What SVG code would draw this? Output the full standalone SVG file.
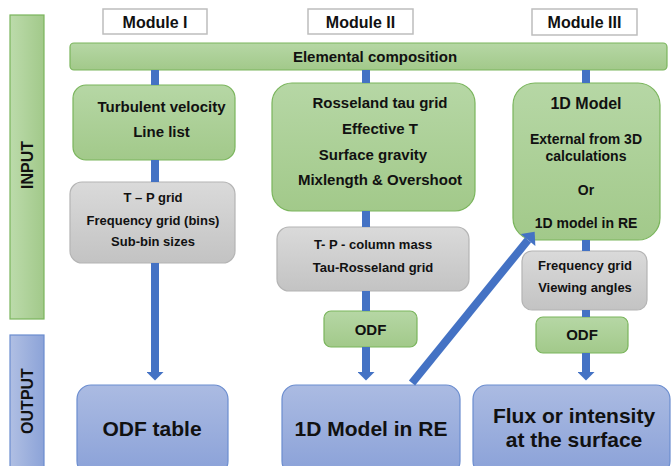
<svg xmlns="http://www.w3.org/2000/svg" width="671" height="466" viewBox="0 0 671 466">
  <defs>
    <linearGradient id="gGreen" x1="0" y1="0" x2="0" y2="1">
      <stop offset="0" stop-color="#b6d7a5"/>
      <stop offset="1" stop-color="#a2c98a"/>
    </linearGradient>
    <linearGradient id="gGreenH" x1="0" y1="0" x2="1" y2="0">
      <stop offset="0" stop-color="#bcdbab"/>
      <stop offset="1" stop-color="#a2c98a"/>
    </linearGradient>
    <linearGradient id="gGray" x1="0" y1="0" x2="0" y2="1">
      <stop offset="0" stop-color="#dadada"/>
      <stop offset="1" stop-color="#c3c3c3"/>
    </linearGradient>
    <linearGradient id="gBlue" x1="0" y1="0" x2="0" y2="1">
      <stop offset="0" stop-color="#abbbe2"/>
      <stop offset="1" stop-color="#8aa1d8"/>
    </linearGradient>
    <linearGradient id="gBlueH" x1="0" y1="0" x2="1" y2="0">
      <stop offset="0" stop-color="#b0bfe3"/>
      <stop offset="1" stop-color="#8ca3d8"/>
    </linearGradient>
    <marker id="head" markerUnits="userSpaceOnUse" markerWidth="9" markerHeight="17" viewBox="0 0 8 16" refX="0" refY="8" orient="auto">
      <path d="M0,0 L8,8 L0,16 Z" fill="#4472c4"/>
    </marker>
    <marker id="headBig" markerUnits="userSpaceOnUse" markerWidth="11" markerHeight="19" viewBox="0 0 10 18" refX="0" refY="9" orient="auto">
      <path d="M0,0 L10,9 L0,18 Z" fill="#4472c4"/>
    </marker>
    <style>
      .green { fill: url(#gGreen); stroke: #7ab55c; stroke-width: 1.2; }
      .gray { fill: url(#gGray); stroke: #b4b4b4; stroke-width: 1.2; }
      .blue { fill: url(#gBlue); stroke: #6b8dcf; stroke-width: 1.2; }
      .mod { fill: #ffffff; stroke: #bdbdbd; stroke-width: 1.5; }
      text { font-family: "Liberation Sans", Arial, sans-serif; font-weight: bold; fill: #111; text-anchor: middle; }
      .t15 { font-size: 15px; }
      .t14 { font-size: 14px; }
      .t13 { font-size: 13px; }
      .t16 { font-size: 16px; }
      .t21 { font-size: 21px; }
      .link { stroke: #4472c4; stroke-width: 8; fill: none; }
    </style>
  </defs>

  <!-- side bands -->
  <g id="input-band">
    <rect x="10" y="15" width="34" height="304" fill="url(#gGreenH)" stroke="#7ab55c" stroke-width="1.2"/>
    <text class="t16" transform="translate(33,165) rotate(-90)">INPUT</text>
  </g>
  <g id="output-band">
    <rect x="10" y="335" width="34" height="140" fill="url(#gBlueH)" stroke="#6b8dcf" stroke-width="1.2"/>
    <text class="t16" transform="translate(33,401) rotate(-90)">OUTPUT</text>
  </g>

  <!-- module headers -->
  <g id="module-1"><rect class="mod" x="103" y="9" width="104" height="25"/><text class="t16" x="155" y="28">Module I</text></g>
  <g id="module-2"><rect class="mod" x="308" y="9" width="105" height="25"/><text class="t16" x="360.5" y="28">Module II</text></g>
  <g id="module-3"><rect class="mod" x="532" y="9" width="105" height="26"/><text class="t16" x="584.5" y="28">Module III</text></g>

  <!-- shared input -->
  <g id="composition">
    <rect class="green" x="70" y="43" width="597" height="27" rx="4"/>
    <text class="t15" x="375" y="62">Elemental composition</text>
  </g>

  <!-- Module I -->
  <g id="turbulent">
    <rect class="green" x="73" y="85" width="162" height="75" rx="13"/>
    <text class="t15" x="161.5" y="112">Turbulent velocity</text>
    <text class="t15" x="161.5" y="137">Line list</text>
  </g>
  <g id="tp-grid">
    <rect class="gray" x="70" y="182" width="165" height="81" rx="12"/>
    <text class="t13" x="153" y="202">T – P grid</text>
    <text class="t13" x="153" y="225">Frequency grid (bins)</text>
    <text class="t13" x="153" y="246">Sub-bin sizes</text>
  </g>
  <g id="odf-table">
    <rect class="blue" x="77" y="385" width="151" height="90" rx="14"/>
    <text class="t21" x="152" y="436">ODF table</text>
  </g>

  <!-- Module II -->
  <g id="rosseland">
    <rect class="green" x="272" y="83" width="203" height="128" rx="20"/>
    <text class="t15" x="380" y="108">Rosseland tau grid</text>
    <text class="t15" x="380" y="134">Effective T</text>
    <text class="t15" x="373" y="160">Surface gravity</text>
    <text class="t15" x="380" y="185">Mixlength &amp; Overshoot</text>
  </g>
  <g id="column-mass">
    <rect class="gray" x="277" y="227" width="192" height="64" rx="12"/>
    <text class="t13" x="373" y="249">T- P - column mass</text>
    <text class="t13" x="373" y="272">Tau-Rosseland grid</text>
  </g>
  <g id="odf-2">
    <rect class="green" x="324" y="311" width="93" height="36" rx="7"/>
    <text class="t15" x="370.5" y="335">ODF</text>
  </g>
  <g id="model-re">
    <rect class="blue" x="282" y="385" width="178" height="90" rx="14"/>
    <text class="t21" x="371" y="436">1D Model in RE</text>
  </g>

  <!-- Module III -->
  <g id="model-1d">
    <rect class="green" x="513" y="83" width="147" height="157" rx="22"/>
    <text class="t16" x="586" y="109">1D Model</text>
    <text class="t14" x="586" y="144">External from 3D</text>
    <text class="t14" x="586" y="161">calculations</text>
    <text class="t14" x="586" y="195">Or</text>
    <text class="t14" x="586" y="228">1D model in RE</text>
  </g>
  <g id="viewing">
    <rect class="gray" x="522" y="251" width="125" height="59" rx="10"/>
    <text class="t13" x="585" y="270">Frequency grid</text>
    <text class="t13" x="585" y="292">Viewing angles</text>
  </g>
  <g id="odf-3">
    <rect class="green" x="536" y="317" width="92" height="36" rx="7"/>
    <text class="t15" x="582" y="340">ODF</text>
  </g>
  <g id="flux">
    <rect class="blue" x="473" y="385" width="197" height="90" rx="14"/>
    <text class="t21" x="574" y="423">Flux or intensity</text>
    <text class="t21" x="574" y="447">at the surface</text>
  </g>

  <!-- connectors -->
  <g id="connectors">
    <line class="link" x1="155" y1="70" x2="155" y2="85"/>
    <line class="link" x1="155" y1="160" x2="155" y2="182"/>
    <line class="link" x1="155" y1="263" x2="155" y2="372" marker-end="url(#head)"/>

    <line class="link" x1="366" y1="70" x2="366" y2="83"/>
    <line class="link" x1="366" y1="211" x2="366" y2="227"/>
    <line class="link" x1="366" y1="291" x2="366" y2="311"/>
    <line class="link" x1="366" y1="347" x2="366" y2="372" marker-end="url(#head)"/>

    <line class="link" x1="586" y1="70" x2="586" y2="83"/>
    <line class="link" x1="586" y1="240" x2="586" y2="251"/>
    <line class="link" x1="586" y1="310" x2="586" y2="317"/>
    <line class="link" x1="586" y1="353" x2="586" y2="372" marker-end="url(#head)"/>

    <line class="link" stroke-width="7" x1="412" y1="383" x2="528" y2="240" marker-end="url(#headBig)"/>
  </g>
</svg>
